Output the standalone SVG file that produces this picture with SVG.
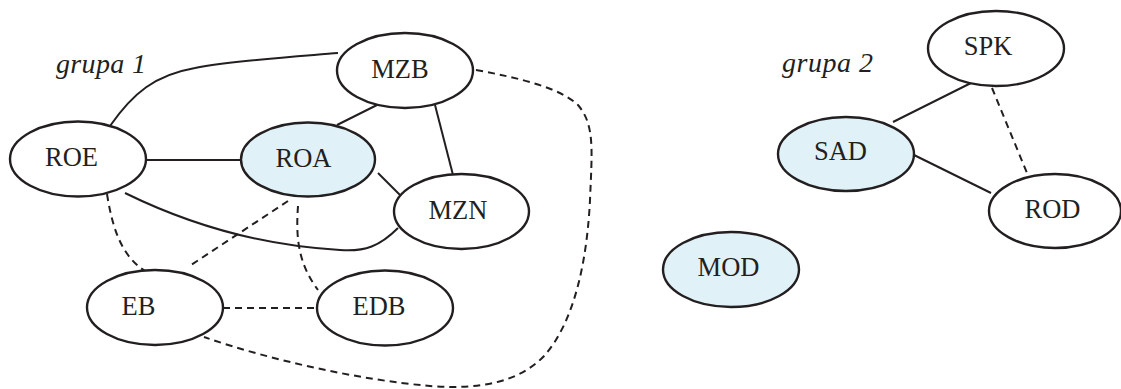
<svg xmlns="http://www.w3.org/2000/svg" width="1121" height="389" viewBox="0 0 1121 389">
  <style>
    .node ellipse { fill: #ffffff; stroke: #231f20; stroke-width: 2.4; }
    .node.hl ellipse { fill: #e0f2f7; }
    .node text { font-family: "Liberation Serif", "Times New Roman", serif; font-size: 26.5px; fill: #231f20; text-anchor: middle; }
    .group-label { font-family: "Liberation Serif", "Times New Roman", serif; font-style: italic; font-size: 28px; fill: #231f20; }
    #connectors path, #connectors line { fill: none; stroke: #231f20; stroke-width: 2; }
    #connectors .dash { stroke-dasharray: 7 5; }
  </style>
  <rect width="1121" height="389" fill="#ffffff"/>

  <text class="group-label" x="56" y="73" textLength="90">grupa 1</text>
  <text class="group-label" x="782" y="72" textLength="91">grupa 2</text>

  <g id="connectors">
    <!-- group 1 solid links -->
    <path d="M110,126 C133,93 155,75 195,68 C230,61 290,57 338,53"/>
    <line x1="146" y1="160" x2="241" y2="160"/>
    <line x1="337" y1="125" x2="377" y2="105"/>
    <line x1="435" y1="105" x2="453" y2="175"/>
    <line x1="378" y1="173" x2="401" y2="196"/>
    <path d="M125,193 C180,220 250,245 340,250 C365,252 380,246 398,228"/>
    <!-- group 1 dashed links -->
    <path class="dash" d="M107,194 C112,225 120,255 145,271"/>
    <line class="dash" x1="288" y1="201" x2="188" y2="267"/>
    <path class="dash" d="M298,206 C296,235 297,262 318,290"/>
    <line class="dash" x1="223" y1="308" x2="317" y2="308"/>
    <path class="dash" d="M476,70 C520,78 560,88 578,105 C595,125 592,150 590,200 C587,260 575,320 545,355 C520,382 480,390 430,386 C360,380 270,360 204,337"/>
    <!-- group 2 links -->
    <line x1="971" y1="83" x2="893" y2="122"/>
    <line x1="914" y1="155" x2="991" y2="193"/>
    <line class="dash" x1="992" y1="88" x2="1027" y2="173"/>
  </g>

  <g id="ROE" class="node"><ellipse cx="78" cy="159" rx="68" ry="37.5"/><text x="71.5" y="166">ROE</text></g>
  <g id="ROA" class="node hl"><ellipse cx="308" cy="159.5" rx="67" ry="37"/><text x="303.5" y="167">ROA</text></g>
  <g id="MZB" class="node"><ellipse cx="405" cy="70.5" rx="68" ry="37.5"/><text x="400" y="77.5">MZB</text></g>
  <g id="MZN" class="node"><ellipse cx="461.5" cy="211.5" rx="67.5" ry="37.5"/><text x="458" y="219">MZN</text></g>
  <g id="EB" class="node"><ellipse cx="155" cy="307.5" rx="68" ry="37.5"/><text x="138.5" y="315">EB</text></g>
  <g id="EDB" class="node"><ellipse cx="385" cy="308" rx="68" ry="37.5"/><text x="379" y="315">EDB</text></g>
  <g id="SPK" class="node"><ellipse cx="996" cy="48.5" rx="68" ry="37.5"/><text x="988" y="55">SPK</text></g>
  <g id="SAD" class="node hl"><ellipse cx="846" cy="154" rx="68" ry="37"/><text x="840.5" y="160">SAD</text></g>
  <g id="ROD" class="node"><ellipse cx="1055" cy="211" rx="66" ry="37"/><text x="1052.5" y="218">ROD</text></g>
  <g id="MOD" class="node hl"><ellipse cx="731" cy="269.5" rx="68" ry="37.5"/><text x="728.5" y="276">MOD</text></g>
</svg>
